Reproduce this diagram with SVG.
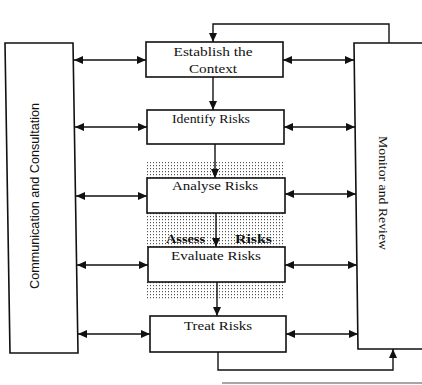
<svg xmlns="http://www.w3.org/2000/svg" width="422" height="385" viewBox="0 0 422 385">
<style>
.box{fill:#fff;stroke:#111;stroke-width:1.6}
.ln{fill:none;stroke:#111;stroke-width:1.4}
.t{font-family:"Liberation Serif",serif;font-size:13px;fill:#111;text-anchor:middle}
.tb{font-family:"Liberation Serif",serif;font-size:13px;font-weight:bold;fill:#111;text-anchor:middle}
.ts{font-family:"Liberation Sans",Arial,sans-serif;font-size:12px;fill:#111;text-anchor:middle}
.stip{fill:url(#dots)}
</style>
<defs>
<pattern id="dots" width="3" height="3" patternUnits="userSpaceOnUse">
<rect width="3" height="3" fill="#fff"/>
<rect x="0" y="0" width="1" height="1.2" fill="#555"/>
</pattern>
<marker id="ah" markerUnits="userSpaceOnUse" markerWidth="10" markerHeight="8" refX="9" refY="4" orient="auto-start-reverse">
<path d="M0,0 L9,4 L0,8 z" fill="#111"/>
</marker>
</defs>

<g id="stipple">
<rect class="stip" x="146" y="161" width="138" height="17"/>
<rect class="stip" x="146" y="213" width="139" height="34"/>
<rect class="stip" x="147" y="282" width="138" height="17"/>
</g>

<g id="comm">
<polygon class="box" points="5,43 73,43 78,353 10,353"/>
<text class="ts" transform="translate(39,196) rotate(-90)" textLength="186" lengthAdjust="spacingAndGlyphs">Communication and Consultation</text>
</g>

<g id="monitor">
<polygon class="box" points="354,43 430,43 434,349 358,349"/>
<text class="t" transform="translate(379,193) rotate(90)" textLength="114" lengthAdjust="spacingAndGlyphs">Monitor and Review</text>
</g>

<g id="establish">
<rect class="box" x="146" y="42" width="137" height="35"/>
<text class="t" x="213" y="56" textLength="79" lengthAdjust="spacingAndGlyphs">Establish the</text>
<text class="t" x="213" y="73" textLength="48" lengthAdjust="spacingAndGlyphs">Context</text>
</g>

<g id="identify">
<rect class="box" x="147" y="110" width="137" height="34"/>
<text class="t" x="211" y="123" textLength="78" lengthAdjust="spacingAndGlyphs">Identify Risks</text>
</g>

<g id="analyse">
<rect class="box" x="147" y="178" width="138" height="35"/>
<text class="t" x="215" y="190" textLength="86" lengthAdjust="spacingAndGlyphs">Analyse Risks</text>
</g>

<g id="assess">
<text class="tb" x="185.5" y="243" textLength="39" lengthAdjust="spacingAndGlyphs">Assess</text>
<text class="tb" x="253.5" y="243" textLength="37" lengthAdjust="spacingAndGlyphs">Risks</text>
</g>

<g id="evaluate">
<rect class="box" x="148" y="247" width="137" height="35"/>
<text class="t" x="216" y="260" textLength="90" lengthAdjust="spacingAndGlyphs">Evaluate Risks</text>
</g>

<g id="treat">
<rect class="box" x="150" y="316" width="136" height="36"/>
<text class="t" x="218" y="330" textLength="68" lengthAdjust="spacingAndGlyphs">Treat Risks</text>
</g>

<g id="connectors">
<path class="ln" d="M389,43 V24 H213 V42" marker-end="url(#ah)"/>
<path class="ln" d="M213,77 V110" marker-end="url(#ah)"/>
<path class="ln" d="M215,144 V178" marker-end="url(#ah)"/>
<path class="ln" d="M216,213 V247" marker-end="url(#ah)"/>
<path class="ln" d="M217,282 V316" marker-end="url(#ah)"/>
<path class="ln" d="M218,352 V370 H393 V349" marker-end="url(#ah)"/>

<path class="ln" d="M74,60 H146" marker-start="url(#ah)" marker-end="url(#ah)"/>
<path class="ln" d="M283,60 H354" marker-start="url(#ah)" marker-end="url(#ah)"/>
<path class="ln" d="M75,127 H147" marker-start="url(#ah)" marker-end="url(#ah)"/>
<path class="ln" d="M284,127 H355" marker-start="url(#ah)" marker-end="url(#ah)"/>
<path class="ln" d="M76,196 H147" marker-start="url(#ah)" marker-end="url(#ah)"/>
<path class="ln" d="M285,194 H356" marker-start="url(#ah)" marker-end="url(#ah)"/>
<path class="ln" d="M77,265 H148" marker-start="url(#ah)" marker-end="url(#ah)"/>
<path class="ln" d="M285,265 H357" marker-start="url(#ah)" marker-end="url(#ah)"/>
<path class="ln" d="M78,334 H150" marker-start="url(#ah)" marker-end="url(#ah)"/>
<path class="ln" d="M286,334 H358" marker-start="url(#ah)" marker-end="url(#ah)"/>
</g>

<line x1="222" y1="383" x2="422" y2="383" stroke="#888" stroke-width="1.5"/>
</svg>
